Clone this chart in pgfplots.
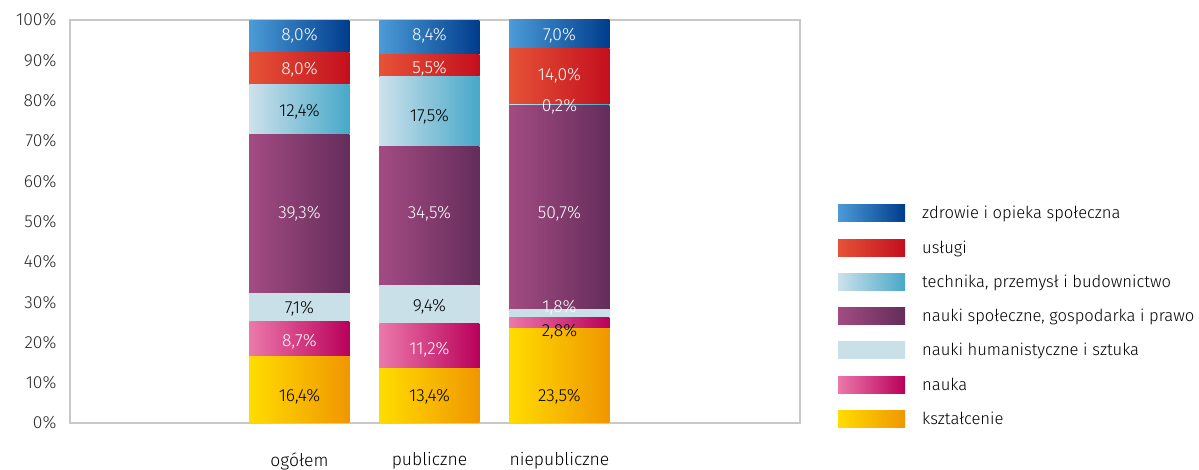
\documentclass[border=0pt]{standalone}
\usepackage{pgfplots}
\pgfplotsset{compat=1.18}
\usepackage{fontspec}
\setmainfont{Fira Sans}[UprightFont=* Light]
\definecolor{zl}{RGB}{75,155,215}
\definecolor{zr}{RGB}{0,60,140}
\definecolor{ul}{RGB}{230,82,55}
\definecolor{ur}{RGB}{195,15,30}
\definecolor{tl}{RGB}{205,225,235}
\definecolor{tr}{RGB}{70,168,200}
\definecolor{nl}{RGB}{162,75,130}
\definecolor{nr}{RGB}{100,45,90}
\definecolor{hum}{RGB}{202,224,232}
\definecolor{pl}{RGB}{235,120,170}
\definecolor{pr}{RGB}{185,0,90}
\definecolor{kl}{RGB}{255,220,0}
\definecolor{kr}{RGB}{240,150,0}
\definecolor{axgray}{RGB}{200,200,196}
\definecolor{tickgray}{RGB}{40,40,40}
\newcommand{\fs}{\fontsize{17.5bp}{20bp}\selectfont}
\newcommand{\fl}{\fontsize{16.6bp}{19bp}\selectfont}
\pgfplotsset{
  gbar/.style 2 args={draw=none, left color=#1, right color=#2,
    legend image code/.code={\shade[left color=#1, right color=#2] (0bp,-8.5bp) rectangle (67bp,8.5bp);}},
  geom/.style={at={(70bp,47bp)}, anchor=south west,
    scale only axis, width=730bp, height=403bp,
    xmin=-1.765, xmax=3.85, ymin=0, ymax=100},
  base/.style={geom, ybar stacked, bar width=100bp},
  lab/.style={only marks, mark=none, nodes near coords, point meta=explicit symbolic,
    every node near coord/.append style={anchor=center, text=#1, font=\fs}},
}
\begin{document}
\begin{tikzpicture}
\path[use as bounding box] (0,0) rectangle (1199bp,470bp);
% ogółem (x = 0), also frame, ticks and legend
\begin{axis}[
  base,
  xtick={0,1,2}, xticklabels={ogółem,publiczne,niepubliczne},
  ytick={0,10,20,30,40,50,60,70,80,90,100},
  yticklabels={0\%,10\%,20\%,30\%,40\%,50\%,60\%,70\%,80\%,90\%,100\%},
  major tick length=0pt,
  axis line style={draw=axgray, line width=1.3bp},
  tick label style={font=\fs},
  yticklabel style={text=tickgray, xshift=-10bp},
  xticklabel style={text=black, yshift=-26bp},
  reverse legend,
  legend cell align=left,
  legend style={at={(1.048,0.548)}, anchor=north west, draw=none, fill=none,
    font=\fl, row sep=16.3bp,
    /tikz/every odd column/.append style={column sep=15bp}},
]
\addplot+[gbar={kl}{kr}] coordinates {(0,16.4)};
\addlegendentry{kształcenie}
\addplot+[gbar={pl}{pr}] coordinates {(0,8.7)};
\addlegendentry{nauka}
\addplot+[gbar={hum}{hum}] coordinates {(0,7.1)};
\addlegendentry{nauki humanistyczne i sztuka}
\addplot+[gbar={nl}{nr}] coordinates {(0,39.3)};
\addlegendentry{nauki społeczne, gospodarka i prawo}
\addplot+[gbar={tl}{tr}] coordinates {(0,12.4)};
\addlegendentry{technika, przemysł i budownictwo}
\addplot+[gbar={ul}{ur}] coordinates {(0,8.0)};
\addlegendentry{usługi}
\addplot+[gbar={zl}{zr}] coordinates {(0,8.0)};
\addlegendentry{zdrowie i opieka społeczna}
\end{axis}
% publiczne (x = 1)
\begin{axis}[base, hide axis]
\addplot+[gbar={kl}{kr}] coordinates {(1,13.4)};
\addplot+[gbar={pl}{pr}] coordinates {(1,11.2)};
\addplot+[gbar={hum}{hum}] coordinates {(1,9.4)};
\addplot+[gbar={nl}{nr}] coordinates {(1,34.5)};
\addplot+[gbar={tl}{tr}] coordinates {(1,17.5)};
\addplot+[gbar={ul}{ur}] coordinates {(1,5.5)};
\addplot+[gbar={zl}{zr}] coordinates {(1,8.4)};
\end{axis}
% niepubliczne (x = 2)
\begin{axis}[base, hide axis]
\addplot+[gbar={kl}{kr}] coordinates {(2,23.5)};
\addplot+[gbar={pl}{pr}] coordinates {(2,2.8)};
\addplot+[gbar={hum}{hum}] coordinates {(2,1.8)};
\addplot+[gbar={nl}{nr}] coordinates {(2,50.7)};
\addplot+[gbar={tl}{tr}] coordinates {(2,0.2)};
\addplot+[gbar={ul}{ur}] coordinates {(2,14.0)};
\addplot+[gbar={zl}{zr}] coordinates {(2,7.0)};
\end{axis}
% value labels
\begin{axis}[geom, hide axis, clip=false]
\addplot[lab=white]
  table[meta=lab, row sep=\\] {
  x y lab\\
  0 20.1 {8,7\%}\\
  0 51.9 {39,3\%}\\
  0 87.6 {8,0\%}\\
  0 96.0 {8,0\%}\\
  1 18.1 {11,2\%}\\
  1 51.9 {34,5\%}\\
  1 87.8 {5,5\%}\\
  1 96.0 {8,4\%}\\
  2 28.5 {1,8\%}\\
  2 51.9 {50,7\%}\\
  2 78.4 {0,2\%}\\
  2 86.1 {14,0\%}\\
  2 96.0 {7,0\%}\\
};
\addplot[lab=black]
  table[meta=lab, row sep=\\] {
  x y lab\\
  0 6.5 {16,4\%}\\
  0 28.3 {7,1\%}\\
  0 77.2 {12,4\%}\\
  1 6.5 {13,4\%}\\
  1 28.8 {9,4\%}\\
  1 75.9 {17,5\%}\\
  2 6.5 {23,5\%}\\
  2 22.6 {2,8\%}\\
};
\end{axis}
\end{tikzpicture}
\end{document}
